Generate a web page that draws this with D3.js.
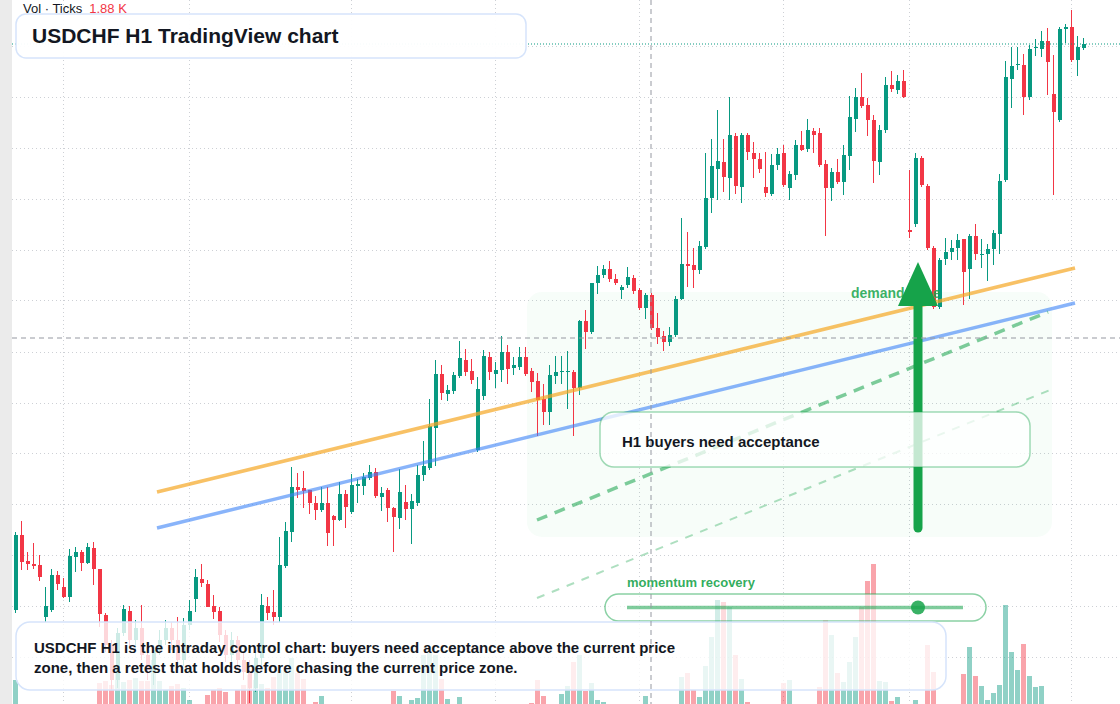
<!DOCTYPE html>
<html>
<head>
<meta charset="utf-8">
<title>USDCHF H1 TradingView chart</title>
<script src="https://d3js.org/d3.v7.min.js"></script>
<style>
  body { margin: 0; background: #fff; }
  svg { display: block; font-family: "Liberation Sans", Arial, sans-serif; }
</style>
</head>
<body>
<script>
  const width = 1120;
  const height = 704;

  // H1 candles, oldest first
  const opens = [
    0.88390,0.88465,0.88439,0.88436,0.88435,0.88383,0.88390,0.88425,0.88413,0.88403,
    0.88443,0.88448,0.88437,0.88452,0.88431,0.88385,0.88355,0.88320,0.88367,0.88389,
    0.88360,0.88372,0.88345,0.88328,0.88350,0.88360,0.88372,0.88360,0.88340,0.88375,
    0.88401,0.88421,0.88416,0.88394,0.88389,0.88365,0.88345,0.88360,0.88340,0.88328,
    0.88312,0.88342,0.88394,0.88388,0.88383,0.88434,0.88468,0.88513,0.88512,0.88510,
    0.88497,0.88490,0.88497,0.88484,0.88480,0.88506,0.88488,0.88514,0.88514,0.88522,
    0.88528,0.88503,0.88510,0.88492,0.88482,0.88498,0.88491,0.88497,0.88525,0.88532,
    0.88572,0.88626,0.88606,0.88609,0.88624,0.88640,0.88629,0.88550,0.88604,0.88643,
    0.88626,0.88630,0.88648,0.88632,0.88633,0.88643,0.88629,0.88619,0.88601,0.88588,
    0.88624,0.88628,0.88628,0.88628,0.88612,0.88679,0.88668,0.88717,0.88725,0.88731,
    0.88721,0.88710,0.88715,0.88722,0.88710,0.88692,0.88705,0.88672,0.88664,0.88658,
    0.88665,0.88701,0.88736,0.88735,0.88730,0.88753,0.88802,0.88831,0.88838,0.88822,
    0.88864,0.88813,0.88865,0.88847,0.88841,0.88813,0.88806,0.88835,0.88847,0.88812,
    0.88825,0.88855,0.88851,0.88869,0.88867,0.88836,0.88812,0.88828,0.88818,0.88844,
    0.88881,0.88903,0.88895,0.88880,0.88838,0.88870,0.88915,0.88910,0.88919,0.88770,
    0.88776,0.88842,0.88814,0.88752,0.88693,0.88741,0.88748,0.88752,0.88761,0.88731,
    0.88764,0.88745,0.88746,0.88751,0.88766,0.88820,0.88921,0.88935,0.88935,0.88903,
    0.88952,0.88951,0.88959,0.88906,0.88880,0.88971,0.88973,0.88940,0.88952
  ];
  const highs = [
    0.88468,0.88479,0.88448,0.88457,0.88445,0.88413,0.88431,0.88429,0.88422,0.88451,
    0.88453,0.88450,0.88457,0.88458,0.88431,0.88387,0.88360,0.88372,0.88395,0.88394,
    0.88380,0.88395,0.88352,0.88355,0.88370,0.88380,0.88378,0.88383,0.88382,0.88400,
    0.88431,0.88436,0.88420,0.88405,0.88393,0.88370,0.88368,0.88364,0.88348,0.88340,
    0.88350,0.88406,0.88403,0.88410,0.88463,0.88478,0.88533,0.88527,0.88529,0.88510,
    0.88504,0.88513,0.88513,0.88485,0.88518,0.88510,0.88526,0.88521,0.88527,0.88535,
    0.88532,0.88513,0.88512,0.88493,0.88531,0.88515,0.88506,0.88535,0.88559,0.88601,
    0.88640,0.88635,0.88615,0.88628,0.88659,0.88651,0.88641,0.88623,0.88650,0.88648,
    0.88638,0.88664,0.88655,0.88643,0.88653,0.88653,0.88632,0.88627,0.88616,0.88635,
    0.88644,0.88644,0.88649,0.88630,0.88680,0.88690,0.88717,0.88734,0.88735,0.88739,
    0.88726,0.88715,0.88733,0.88725,0.88712,0.88707,0.88707,0.88687,0.88669,0.88673,
    0.88704,0.88782,0.88768,0.88752,0.88759,0.88847,0.88861,0.88890,0.88861,0.88903,
    0.88867,0.88867,0.88867,0.88858,0.88847,0.88848,0.88846,0.88852,0.88855,0.88829,
    0.88860,0.88869,0.88881,0.88872,0.88872,0.88840,0.88832,0.88841,0.88855,0.88904,
    0.88912,0.88927,0.88902,0.88885,0.88875,0.88923,0.88929,0.88925,0.88930,0.88830,
    0.88847,0.88844,0.88816,0.88754,0.88742,0.88762,0.88760,0.88766,0.88761,0.88766,
    0.88776,0.88761,0.88756,0.88770,0.88826,0.88939,0.88953,0.88953,0.88946,0.88955,
    0.88961,0.88969,0.88972,0.88945,0.88973,0.88976,0.88990,0.88964,0.88962
  ];
  const lows = [
    0.88387,0.88430,0.88430,0.88431,0.88419,0.88378,0.88388,0.88410,0.88402,0.88398,
    0.88428,0.88429,0.88436,0.88415,0.88373,0.88348,0.88310,0.88312,0.88364,0.88354,
    0.88350,0.88340,0.88320,0.88315,0.88345,0.88355,0.88350,0.88332,0.88334,0.88370,
    0.88388,0.88413,0.88393,0.88381,0.88358,0.88338,0.88338,0.88330,0.88320,0.88297,
    0.88308,0.88335,0.88380,0.88375,0.88378,0.88432,0.88458,0.88502,0.88492,0.88486,
    0.88480,0.88488,0.88454,0.88454,0.88479,0.88472,0.88486,0.88497,0.88505,0.88520,
    0.88502,0.88489,0.88478,0.88448,0.88471,0.88480,0.88456,0.88494,0.88519,0.88530,
    0.88534,0.88600,0.88599,0.88606,0.88622,0.88624,0.88616,0.88548,0.88600,0.88620,
    0.88612,0.88618,0.88616,0.88625,0.88630,0.88624,0.88608,0.88564,0.88575,0.88575,
    0.88616,0.88616,0.88591,0.88564,0.88605,0.88651,0.88666,0.88706,0.88722,0.88718,
    0.88715,0.88701,0.88712,0.88706,0.88690,0.88681,0.88670,0.88656,0.88649,0.88654,
    0.88663,0.88700,0.88713,0.88712,0.88726,0.88751,0.88787,0.88800,0.88808,0.88800,
    0.88806,0.88797,0.88840,0.88822,0.88827,0.88803,0.88804,0.88830,0.88813,0.88800,
    0.88820,0.88849,0.88848,0.88847,0.88833,0.88764,0.88799,0.88816,0.88805,0.88830,
    0.88868,0.88892,0.88864,0.88817,0.88825,0.88867,0.88908,0.88906,0.88902,0.88762,
    0.88773,0.88813,0.88750,0.88691,0.88691,0.88735,0.88740,0.88740,0.88695,0.88701,
    0.88740,0.88732,0.88719,0.88735,0.88746,0.88818,0.88892,0.88930,0.88885,0.88900,
    0.88944,0.88943,0.88905,0.88805,0.88878,0.88957,0.88938,0.88924,0.88950
  ];
  const closes = [
    0.88465,0.88438,0.88436,0.88434,0.88423,0.88394,0.88425,0.88416,0.88403,0.88444,
    0.88448,0.88437,0.88453,0.88431,0.88386,0.88355,0.88320,0.88367,0.88391,0.88360,
    0.88372,0.88345,0.88330,0.88350,0.88360,0.88372,0.88360,0.88340,0.88375,0.88389,
    0.88423,0.88417,0.88393,0.88388,0.88365,0.88345,0.88360,0.88340,0.88328,0.88312,
    0.88342,0.88395,0.88387,0.88383,0.88435,0.88469,0.88513,0.88510,0.88509,0.88497,
    0.88490,0.88497,0.88467,0.88480,0.88506,0.88493,0.88515,0.88516,0.88523,0.88528,
    0.88504,0.88507,0.88492,0.88483,0.88508,0.88491,0.88499,0.88525,0.88534,0.88574,
    0.88626,0.88607,0.88610,0.88625,0.88642,0.88628,0.88620,0.88611,0.88644,0.88628,
    0.88630,0.88648,0.88631,0.88635,0.88643,0.88626,0.88618,0.88600,0.88588,0.88625,
    0.88628,0.88629,0.88629,0.88612,0.88679,0.88668,0.88717,0.88725,0.88731,0.88721,
    0.88717,0.88713,0.88723,0.88709,0.88692,0.88705,0.88672,0.88663,0.88658,0.88665,
    0.88701,0.88736,0.88734,0.88730,0.88754,0.88802,0.88834,0.88839,0.88823,0.88865,
    0.88814,0.88865,0.88848,0.88841,0.88831,0.88807,0.88835,0.88846,0.88815,0.88826,
    0.88855,0.88850,0.88870,0.88865,0.88835,0.88812,0.88828,0.88818,0.88845,0.88883,
    0.88903,0.88894,0.88880,0.88839,0.88870,0.88915,0.88911,0.88919,0.88903,0.88768,
    0.88842,0.88815,0.88752,0.88693,0.88740,0.88748,0.88752,0.88760,0.88728,0.88764,
    0.88746,0.88746,0.88751,0.88767,0.88819,0.88923,0.88934,0.88936,0.88903,0.88951,
    0.88953,0.88959,0.88938,0.88888,0.88971,0.88973,0.88940,0.88953,0.88956
  ];
  // tick volume
  const volumes = [
    400,120,90,80,110,130,100,70,90,140,
    60,80,100,120,370,390,350,500,380,400,
    420,390,390,600,390,300,340,360,320,200,
    130,150,250,300,320,280,150,300,350,450,
    400,360,320,430,500,500,620,470,410,140,
    180,240,150,120,100,130,90,80,70,110,
    140,90,120,290,240,120,200,220,650,670,
    650,410,210,140,230,130,100,150,140,90,
    60,110,100,70,80,120,170,400,240,150,
    140,260,340,580,650,290,370,200,180,110,
    80,70,100,90,130,240,140,120,100,110,
    150,430,470,300,230,540,830,1200,1180,1130,
    650,410,180,120,90,110,130,100,370,400,
    140,90,120,80,330,1000,850,470,380,580,
    830,1130,1390,1560,390,380,190,230,120,140,
    200,150,750,480,130,100,90,110,460,730,
    440,340,200,270,350,1150,680,500,760,440,
    330,340,150,120,140,90,130,100,80
  ];

  // grid (price levels and session starts by candle index)
  const gridLevels = [0.88954,0.88903,0.88852,0.88801,0.88750,0.88700,0.88648,
                      0.88597,0.88547,0.88496,0.88445,0.88394,0.88343];
  const gridIdx = [8, 29, 56, 80, 104, 128, 149, 176];

  // drawings: [candle index, price]
  const orangeLine = [[23.67, 0.88508], [176.67, 0.88732]];
  const blueLine = [[23.67, 0.88472], [176.67, 0.88697]];
  const greenDash = [[87, 0.88480], [172.17, 0.88688]];
  const greenDashThin = [[87, 0.88402], [172.5, 0.88610]];
  const zone = {from: 85.33, to: 172.83, top: 0.88708, bottom: 0.88463};
  const arrowIdx = 150.5;
  const arrowFrom = 0.88472;
  const arrowTo = 0.88738;
  const crossIdx = 106;
  const crossPrice = 0.88662;

  const svg = d3.select("body")
    .append("svg")
    .attr("width", width)
    .attr("height", height);

  const x = d3.scaleLinear().domain([0, opens.length - 1]).range([15, 1083]);
  const y = d3.scaleLinear().domain([0.880, 0.890]).range([1000, 0]);
  const yVol = d3.scaleLinear().domain([0, 1600]).range([720, 560]);

  const candles = opens.map((o, i) => ({
    i: i, o: o, h: highs[i], l: lows[i], c: closes[i], v: volumes[i]
  }));
  const up = "#089981", down = "#f23645";

  // grid
  svg.append("g")
    .attr("transform", "translate(12,0)")
    .call(d3.axisLeft(y).tickValues(gridLevels).tickSize(-(width - 12)).tickFormat(""))
    .call(g => g.select(".domain").remove())
    .selectAll("line")
    .attr("stroke", "#cdd0d5")
    .attr("stroke-dasharray", "1 3");

  svg.append("g")
    .call(d3.axisBottom(x).tickValues(gridIdx).tickSize(height).tickFormat(""))
    .call(g => g.select(".domain").remove())
    .selectAll("line")
    .attr("stroke", "#cdd0d5")
    .attr("stroke-dasharray", "1 3");

  // demand zone
  svg.append("rect")
    .attr("x", x(zone.from)).attr("y", y(zone.top))
    .attr("width", x(zone.to) - x(zone.from))
    .attr("height", y(zone.bottom) - y(zone.top))
    .attr("rx", 15)
    .attr("fill", "#22c55e").attr("fill-opacity", 0.035);

  // volume
  svg.append("g").selectAll("rect")
    .data(candles)
    .join("rect")
    .attr("x", d => x(d.i) - 2.5)
    .attr("y", d => yVol(d.v))
    .attr("width", 5)
    .attr("height", d => yVol(0) - yVol(d.v))
    .attr("fill", d => d.c >= d.o ? up : down)
    .attr("fill-opacity", 0.45)
    .attr("shape-rendering", "crispEdges");

  // candles
  const cg = svg.append("g").attr("shape-rendering", "crispEdges");
  cg.selectAll("line")
    .data(candles)
    .join("line")
    .attr("x1", d => x(d.i) + 0.5).attr("x2", d => x(d.i) + 0.5)
    .attr("y1", d => y(d.h)).attr("y2", d => y(d.l))
    .attr("stroke", d => d.c >= d.o ? up : down);
  cg.selectAll("rect")
    .data(candles)
    .join("rect")
    .attr("x", d => x(d.i) - 1.5)
    .attr("y", d => y(Math.max(d.o, d.c)))
    .attr("width", 4)
    .attr("height", d => Math.max(1, Math.abs(y(d.o) - y(d.c))))
    .attr("fill", d => d.c >= d.o ? up : down);

  // trend lines
  const line = d3.line().x(d => x(d[0])).y(d => y(d[1]));
  svg.append("path").attr("d", line(orangeLine))
    .attr("stroke", "#f5a623").attr("stroke-opacity", 0.7).attr("stroke-width", 3.5).attr("fill", "none");
  svg.append("path").attr("d", line(blueLine))
    .attr("stroke", "#3b82f6").attr("stroke-opacity", 0.6).attr("stroke-width", 3.5).attr("fill", "none");
  svg.append("path").attr("d", line(greenDash))
    .attr("stroke", "#16a34a").attr("stroke-opacity", 0.55).attr("stroke-width", 3.5)
    .attr("stroke-dasharray", "11 8").attr("fill", "none");
  svg.append("path").attr("d", line(greenDashThin))
    .attr("stroke", "#16a34a").attr("stroke-opacity", 0.35).attr("stroke-width", 2)
    .attr("stroke-dasharray", "8 8").attr("fill", "none");

  // last price line
  svg.append("line")
    .attr("x1", 12).attr("x2", width)
    .attr("y1", y(closes[closes.length - 1])).attr("y2", y(closes[closes.length - 1]))
    .attr("stroke", up).attr("stroke-dasharray", "1 2");

  // demand zone label and arrow
  svg.append("text")
    .attr("x", 851).attr("y", 298)
    .attr("font-size", 14).attr("font-weight", "bold")
    .attr("fill", "#16a34a").attr("fill-opacity", 0.85)
    .text("demand zone");

  svg.append("line")
    .attr("x1", x(arrowIdx)).attr("x2", x(arrowIdx))
    .attr("y1", y(arrowFrom)).attr("y2", y(arrowTo) + 40)
    .attr("stroke", "#16a34a").attr("stroke-width", 9).attr("stroke-linecap", "round");
  svg.append("path")
    .attr("d", `M${x(arrowIdx)},${y(arrowTo)} L${x(arrowIdx) + 20},${y(arrowTo) + 44} L${x(arrowIdx) - 20},${y(arrowTo) + 44} Z`)
    .attr("fill", "#16a34a");

  // left strip
  svg.append("rect").attr("x", 0).attr("y", 0).attr("width", 12).attr("height", height).attr("fill", "#ebebeb");

  // title
  svg.append("rect")
    .attr("x", 16).attr("y", 14).attr("width", 510).attr("height", 44).attr("rx", 10)
    .attr("fill", "#fff").attr("fill-opacity", 0.96)
    .attr("stroke", "#d6e4fb").attr("stroke-width", 1.5);
  svg.append("text")
    .attr("x", 32).attr("y", 43)
    .attr("font-size", 21).attr("font-weight", "bold").attr("fill", "#131722")
    .text("USDCHF H1 TradingView chart");

  // H1 note
  svg.append("rect")
    .attr("x", 600).attr("y", 412).attr("width", 430).attr("height", 55).attr("rx", 14)
    .attr("fill", "#fff").attr("fill-opacity", 0.75)
    .attr("stroke", "#16a34a").attr("stroke-opacity", 0.4).attr("stroke-width", 1.5);
  svg.append("text")
    .attr("x", 622).attr("y", 447)
    .attr("font-size", 15).attr("font-weight", "bold").attr("fill", "#131722")
    .text("H1 buyers need acceptance");

  // momentum pill
  svg.append("text")
    .attr("x", 627).attr("y", 587)
    .attr("font-size", 13).attr("font-weight", "bold").attr("fill", "#16a34a").attr("fill-opacity", 0.9)
    .text("momentum recovery");
  svg.append("rect")
    .attr("x", 605).attr("y", 594).attr("width", 381).attr("height", 27).attr("rx", 13.5)
    .attr("fill", "#fff").attr("fill-opacity", 0.6)
    .attr("stroke", "#16a34a").attr("stroke-opacity", 0.5).attr("stroke-width", 1.5);
  svg.append("line")
    .attr("x1", 627).attr("x2", 963).attr("y1", 607.5).attr("y2", 607.5)
    .attr("stroke", "#16a34a").attr("stroke-opacity", 0.55).attr("stroke-width", 3.5);
  svg.append("circle")
    .attr("cx", x(arrowIdx)).attr("cy", 607.5).attr("r", 7)
    .attr("fill", "#16a34a").attr("fill-opacity", 0.85);

  // bottom note
  svg.append("rect")
    .attr("x", 16).attr("y", 622).attr("width", 930).attr("height", 68).attr("rx", 14)
    .attr("fill", "#fff").attr("fill-opacity", 0.8)
    .attr("stroke", "#d6e4fb").attr("stroke-width", 1.5);
  const note = svg.append("text")
    .attr("x", 34).attr("y", 653)
    .attr("font-size", 15).attr("font-weight", "bold").attr("fill", "#131722");
  note.append("tspan").attr("x", 34).attr("y", 653)
    .text("USDCHF H1 is the intraday control chart: buyers need acceptance above the current price");
  note.append("tspan").attr("x", 34).attr("y", 673)
    .text("zone, then a retest that holds before chasing the current price zone.");

  // crosshair
  svg.append("line")
    .attr("x1", x(crossIdx)).attr("x2", x(crossIdx)).attr("y1", 0).attr("y2", height)
    .attr("stroke", "#9598a1").attr("stroke-dasharray", "5 4");
  svg.append("line")
    .attr("x1", 12).attr("x2", width).attr("y1", y(crossPrice)).attr("y2", y(crossPrice))
    .attr("stroke", "#9598a1").attr("stroke-dasharray", "5 4");

  // volume legend
  const legend = svg.append("text").attr("x", 23).attr("y", 13).attr("font-size", 13);
  legend.append("tspan").attr("fill", "#131722").text("Vol · Ticks");
  legend.append("tspan").attr("dx", 7).attr("fill", "#f23645").text("1.88 K");
</script>
</body>
</html>
